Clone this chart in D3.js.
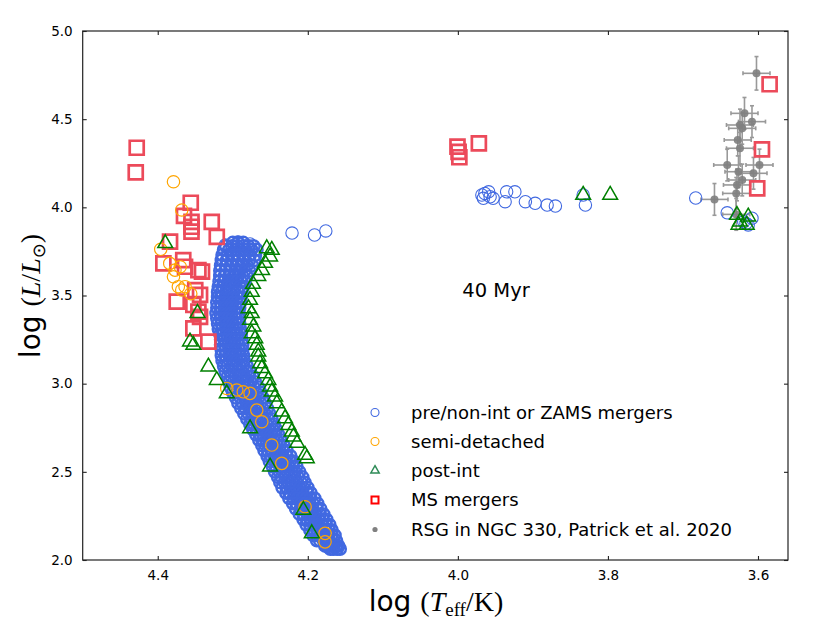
<!DOCTYPE html>
<html><head><meta charset="utf-8">
<script src="https://cdn.jsdelivr.net/npm/d3@7"></script>
<style>body{margin:0;background:#fff}svg{display:block}</style>
</head><body><div id="chart"></div>
<script>
// ---------------- DATA ----------------
const xTicks = [4.4, 4.2, 4.0, 3.8, 3.6];
const yTicks = [2.0, 2.5, 3.0, 3.5, 4.0, 4.5, 5.0];
const legendLabels = ["pre/non-int or ZAMS mergers", "semi-detached", "post-int", "MS mergers", "RSG in NGC 330, Patrick et al. 2020"];
const ageLabel = "40 Myr";

// dense band of pre/non-interacting stars: [logL, logTeff values across the band]
const blueBand = [
 [3.80,[4.300,4.293,4.286]],
 [3.78,[4.309,4.301,4.294,4.286,4.279,4.272]],
 [3.76,[4.312,4.305,4.297,4.290,4.283,4.275,4.268]],
 [3.73,[4.314,4.307,4.299,4.292,4.284,4.277,4.270]],
 [3.70,[4.315,4.308,4.300,4.293,4.286,4.278,4.271]],
 [3.67,[4.316,4.309,4.302,4.295,4.288,4.281,4.274]],
 [3.64,[4.317,4.310,4.304,4.297,4.291,4.284,4.278]],
 [3.61,[4.317,4.311,4.305,4.299,4.293,4.287,4.281]],
 [3.58,[4.318,4.312,4.306,4.301,4.295,4.289,4.284]],
 [3.55,[4.319,4.313,4.308,4.302,4.297,4.291,4.286]],
 [3.52,[4.320,4.315,4.309,4.304,4.299,4.293,4.288]],
 [3.49,[4.320,4.315,4.310,4.305,4.299,4.294,4.289]],
 [3.46,[4.321,4.316,4.311,4.305,4.300,4.295,4.290]],
 [3.43,[4.321,4.316,4.311,4.306,4.301,4.296,4.291]],
 [3.40,[4.322,4.317,4.312,4.307,4.302,4.297,4.292]],
 [3.37,[4.321,4.316,4.311,4.306,4.301,4.296,4.292]],
 [3.34,[4.320,4.315,4.310,4.305,4.300,4.295,4.291]],
 [3.31,[4.319,4.314,4.309,4.304,4.299,4.295,4.290]],
 [3.28,[4.317,4.313,4.308,4.303,4.298,4.294,4.289]],
 [3.25,[4.316,4.311,4.307,4.302,4.297,4.293,4.288]],
 [3.22,[4.316,4.311,4.306,4.301,4.297,4.292,4.287]],
 [3.19,[4.315,4.310,4.305,4.301,4.296,4.291,4.287]],
 [3.16,[4.315,4.310,4.305,4.300,4.295,4.291,4.286]],
 [3.13,[4.314,4.309,4.304,4.299,4.294,4.289,4.285]],
 [3.10,[4.312,4.307,4.301,4.296,4.291,4.286,4.281]],
 [3.07,[4.310,4.304,4.299,4.293,4.288,4.282,4.277]],
 [3.04,[4.307,4.302,4.296,4.290,4.285,4.279,4.273]],
 [3.01,[4.305,4.299,4.293,4.287,4.281,4.276,4.270]],
 [2.98,[4.303,4.297,4.291,4.285,4.278,4.272,4.266]],
 [2.95,[4.300,4.294,4.288,4.281,4.275,4.269,4.263]],
 [2.92,[4.296,4.290,4.284,4.278,4.272,4.266,4.260]],
 [2.89,[4.293,4.287,4.281,4.275,4.269,4.263,4.257]],
 [2.86,[4.289,4.283,4.277,4.271,4.266,4.260,4.254]],
 [2.83,[4.285,4.279,4.274,4.268,4.262,4.257,4.251]],
 [2.80,[4.281,4.275,4.270,4.264,4.259,4.253,4.248]],
 [2.77,[4.277,4.272,4.266,4.261,4.255,4.250,4.245]],
 [2.74,[4.273,4.268,4.263,4.257,4.252,4.247,4.242]],
 [2.71,[4.269,4.264,4.259,4.254,4.249,4.244,4.239]],
 [2.68,[4.265,4.260,4.255,4.251,4.246,4.241,4.236]],
 [2.65,[4.261,4.256,4.251,4.246,4.241,4.237,4.232]],
 [2.62,[4.258,4.253,4.248,4.243,4.238,4.233,4.228]],
 [2.59,[4.254,4.249,4.244,4.239,4.234,4.228,4.223]],
 [2.56,[4.251,4.245,4.240,4.235,4.230,4.224,4.219]],
 [2.53,[4.247,4.242,4.236,4.231,4.226,4.220,4.215]],
 [2.50,[4.244,4.238,4.233,4.227,4.222,4.217,4.211]],
 [2.47,[4.240,4.235,4.229,4.224,4.218,4.213,4.207]],
 [2.44,[4.237,4.231,4.226,4.220,4.215,4.209,4.204]],
 [2.41,[4.234,4.228,4.222,4.217,4.211,4.206,4.200]],
 [2.38,[4.229,4.224,4.218,4.212,4.207,4.201,4.196]],
 [2.35,[4.225,4.219,4.214,4.208,4.202,4.197,4.191]],
 [2.32,[4.220,4.215,4.209,4.204,4.198,4.193,4.187]],
 [2.29,[4.216,4.210,4.205,4.199,4.194,4.188,4.183]],
 [2.26,[4.211,4.206,4.200,4.195,4.190,4.184,4.179]],
 [2.23,[4.206,4.201,4.196,4.191,4.185,4.180,4.175]],
 [2.20,[4.202,4.197,4.192,4.187,4.181,4.176,4.171]],
 [2.17,[4.197,4.192,4.187,4.182,4.177,4.172,4.168]],
 [2.14,[4.193,4.188,4.183,4.178,4.173,4.168,4.164]],
 [2.11,[4.188,4.184,4.179,4.175,4.171,4.166,4.162]],
 [2.08,[4.177,4.174,4.171,4.168,4.165,4.162,4.159]],
 [2.062,[4.170,4.166,4.161,4.157]]
];
// isolated pre/non-interacting stars [logTeff, logL]
const blueOther = [
 [4.310,3.786],[4.293,3.803],[4.277,3.792],[4.314,3.712],[4.317,3.616],[4.3195,3.531],
 [4.221,3.854],[4.191,3.843],[4.176,3.866],
 [3.968,4.070],[3.964,4.079],[3.957,4.060],[3.953,4.051],[3.966,4.051],[3.959,4.088],
 [3.935,4.088],[3.924,4.088],[3.937,4.032],[3.910,4.032],[3.897,4.023],[3.881,4.013],
 [3.870,4.007],[3.833,4.070],[3.830,4.013],[3.683,4.053],
 [3.641,3.969],[3.616,3.909],[3.608,3.938],[3.619,3.918],[3.613,3.900]
];
// semi-detached [logTeff, logL]
const semiDetached = [
 [4.379,4.145],[4.368,3.985],[4.396,3.762],[4.384,3.682],[4.377,3.644],[4.370,3.663],
 [4.379,3.606],[4.3725,3.550],[4.368,3.531],[4.3636,3.550],[4.356,3.510],
 [4.308,2.973],[4.2947,2.964],[4.286,2.954],[4.277,2.945],[4.268,2.850],[4.2613,2.784],
 [4.248,2.652],[4.2347,2.548],[4.2036,2.302],[4.177,2.151],[4.177,2.103]
];
// post-interaction [logTeff, logL]
const postInt = [
 [4.2547,3.767],[4.248,3.758],[4.2503,3.720],[4.257,3.684],[4.261,3.644],[4.266,3.610],
 [4.273,3.565],[4.2747,3.520],[4.277,3.474],[4.279,3.427],[4.2747,3.399],[4.277,3.361],
 [4.2725,3.323],[4.2747,3.285],[4.270,3.257],[4.268,3.219],[4.266,3.181],[4.266,3.153],
 [4.2636,3.115],[4.2613,3.087],[4.257,3.058],[4.2525,3.020],[4.2503,2.982],[4.248,2.954],
 [4.2436,2.926],[4.2413,2.888],[4.2347,2.841],[4.2303,2.803],[4.2259,2.765],[4.2213,2.727],
 [4.2192,2.699],[4.2143,2.663],[4.2036,2.595],[4.2013,2.576],
 [4.390,3.796],[4.357,3.238],[4.3525,3.219],[4.347,3.400],[4.3325,3.096],[4.3213,3.020],
 [4.308,2.945],[4.2769,2.746],[4.2503,2.529],[4.2059,2.283],[4.1947,2.151],
 [3.833,4.070],[3.797,4.070],
 [3.628,3.956],[3.613,3.947],[3.624,3.918],[3.626,3.900],[3.615,3.900]
];
// main-sequence mergers [logTeff, logL]
const msMergers = [
 [4.428,4.338],[4.4293,4.198],[4.356,4.026],[4.365,3.951],[4.355,3.918],[4.355,3.890],
 [4.355,3.862],[4.328,3.918],[4.3213,3.833],[4.3836,3.805],[4.3925,3.682],[4.366,3.701],
 [4.3636,3.663],[4.3458,3.644],[4.341,3.635],[4.350,3.531],[4.3436,3.503],[4.3747,3.465],
 [4.3525,3.446],[4.3458,3.408],[4.3436,3.379],[4.3525,3.314],[4.3325,3.238],
 [4.0005,4.344],[3.999,4.315],[3.998,4.284],[3.972,4.363],
 [3.5845,4.698],[3.5947,4.329],[3.601,4.108]
];
// RSGs in NGC 330 (Patrick et al. 2020): [logTeff, logL, errTeff, errL]
const rsg = [
 [3.602,4.760,0.018,0.095],[3.618,4.533,0.018,0.09],[3.608,4.486,0.018,0.09],
 [3.624,4.467,0.018,0.09],[3.621,4.448,0.018,0.09],[3.627,4.382,0.018,0.09],
 [3.624,4.335,0.018,0.09],[3.641,4.240,0.018,0.09],[3.598,4.240,0.018,0.09],
 [3.606,4.193,0.018,0.09],[3.626,4.202,0.018,0.09],[3.621,4.155,0.018,0.09],
 [3.628,4.127,0.018,0.09],[3.629,4.079,0.018,0.09],[3.658,4.045,0.018,0.09],
 [3.629,3.960,0.018,0.09]
];

// ---------------- CHART ----------------
const W = 830, H = 623;
const x = d3.scaleLinear().domain([4.5, 3.56]).range([82.7, 788]);
const y = d3.scaleLinear().domain([2.0, 5.0]).range([560, 31]);

const svg = d3.select("#chart").append("svg").attr("width", W).attr("height", H)
  .style("font-family", "'DejaVu Sans', sans-serif");

const plot = svg.append("g");
svg.append("clipPath").attr("id", "clip").append("rect")
  .attr("x", x.range()[0]).attr("y", y.range()[1])
  .attr("width", x.range()[1] - x.range()[0]).attr("height", y.range()[0] - y.range()[1]);
plot.attr("clip-path", "url(#clip)");

const circ = d3.symbol().type(d3.symbolCircle).size(Math.PI * 6.2 * 6.2);
const bandCirc = d3.symbol().type(d3.symbolCircle).size(Math.PI * 5.8 * 5.8);
const tri = d3.symbol().type(d3.symbolTriangle).size(95);
const sq = d3.symbol().type(d3.symbolSquare).size(14 * 14);

// RSG error bars + points
const gR = plot.append("g").attr("stroke", "#888").attr("stroke-width", 1.6).attr("opacity", 0.85);
rsg.forEach(([t, l, et, el]) => {
  gR.append("line").attr("x1", x(t - et)).attr("x2", x(t + et)).attr("y1", y(l)).attr("y2", y(l));
  gR.append("line").attr("x1", x(t)).attr("x2", x(t)).attr("y1", y(l - el)).attr("y2", y(l + el));
  [t - et, t + et].forEach(v => gR.append("line").attr("x1", x(v)).attr("x2", x(v)).attr("y1", y(l) - 2).attr("y2", y(l) + 2));
  [l - el, l + el].forEach(v => gR.append("line").attr("x1", x(t) - 2).attr("x2", x(t) + 2).attr("y1", y(v)).attr("y2", y(v)));
});
plot.append("g").selectAll("circle").data(rsg).join("circle")
  .attr("cx", d => x(d[0])).attr("cy", d => y(d[1])).attr("r", 4).attr("fill", "#808080").attr("opacity", 0.9);

// blue band
const bandPts = [];
blueBand.forEach(([l, ts]) => ts.forEach(t => bandPts.push([t, l])));
plot.append("g").selectAll("path").data(bandPts).join("path")
  .attr("d", bandCirc).attr("transform", d => `translate(${x(d[0])},${y(d[1])})`)
  .attr("fill", "none").attr("stroke", "royalblue").attr("stroke-width", 2.4);
plot.append("g").selectAll("path").data(blueOther).join("path")
  .attr("d", circ).attr("transform", d => `translate(${x(d[0])},${y(d[1])})`)
  .attr("fill", "none").attr("stroke", "royalblue").attr("stroke-width", 1.1);

// red squares
plot.append("g").selectAll("path").data(msMergers).join("path")
  .attr("d", sq).attr("transform", d => `translate(${x(d[0])},${y(d[1])})`)
  .attr("fill", "none").attr("stroke", "#ec4a5a").attr("stroke-width", 2.7);

// orange
plot.append("g").selectAll("path").data(semiDetached).join("path")
  .attr("d", circ).attr("transform", d => `translate(${x(d[0])},${y(d[1])})`)
  .attr("fill", "none").attr("stroke", "orange").attr("stroke-width", 1.2);

// green triangles
plot.append("g").selectAll("path").data(postInt).join("path")
  .attr("d", tri).attr("transform", d => `translate(${x(d[0])},${y(d[1])})`)
  .attr("fill", "none").attr("stroke", "green").attr("stroke-width", 1.5);

// axes frame
svg.append("rect").attr("x", x.range()[0]).attr("y", y.range()[1])
  .attr("width", x.range()[1] - x.range()[0]).attr("height", y.range()[0] - y.range()[1])
  .attr("fill", "none").attr("stroke", "#222").attr("stroke-width", 1.2);

const xb = svg.append("g").attr("transform", `translate(0,${y.range()[0]})`)
  .call(d3.axisBottom(x).tickValues(xTicks).tickSizeInner(-4).tickSizeOuter(0).tickPadding(10).tickFormat(d3.format(".1f")));
const xt = svg.append("g").attr("transform", `translate(0,${y.range()[1]})`)
  .call(d3.axisTop(x).tickValues(xTicks).tickSizeInner(-4).tickSizeOuter(0).tickFormat(""));
const yl = svg.append("g").attr("transform", `translate(${x.range()[0]},0)`)
  .call(d3.axisLeft(y).tickValues(yTicks).tickSizeInner(-4).tickSizeOuter(0).tickPadding(10).tickFormat(d3.format(".1f")));
const yr = svg.append("g").attr("transform", `translate(${x.range()[1]},0)`)
  .call(d3.axisRight(y).tickValues(yTicks).tickSizeInner(-4).tickSizeOuter(0).tickFormat(""));
[xb, xt, yl, yr].forEach(g => {
  g.select(".domain").remove();
  g.selectAll(".tick line").attr("stroke", "#222").attr("stroke-width", 1.1);
  g.selectAll(".tick text").attr("font-family", "'DejaVu Sans', sans-serif").attr("font-size", 13.5).attr("fill", "#000");
});

// axis labels
const xl = svg.append("text").attr("x", 436).attr("y", 611).attr("text-anchor", "middle")
  .attr("font-size", 28).attr("fill", "#000");
xl.append("tspan").attr("font-family", "'DejaVu Sans', sans-serif").text("log ");
xl.append("tspan").attr("font-family", "'Liberation Serif', serif").text("(");
xl.append("tspan").attr("font-family", "'Liberation Serif', serif").attr("font-style", "italic").text("T");
xl.append("tspan").attr("font-family", "'Liberation Serif', serif").attr("font-size", 19).attr("dy", 5).text("eff");
xl.append("tspan").attr("font-family", "'Liberation Serif', serif").attr("dy", -5).text("/K)");

const ylab = svg.append("text").attr("transform", "translate(40,296) rotate(-90)").attr("text-anchor", "middle")
  .attr("font-size", 28).attr("fill", "#000");
ylab.append("tspan").attr("font-family", "'DejaVu Sans', sans-serif").text("log ");
ylab.append("tspan").attr("font-family", "'Liberation Serif', serif").text("(");
ylab.append("tspan").attr("font-family", "'Liberation Serif', serif").attr("font-style", "italic").text("L");
ylab.append("tspan").attr("font-family", "'Liberation Serif', serif").text("/");
ylab.append("tspan").attr("font-family", "'Liberation Serif', serif").attr("font-style", "italic").text("L");
ylab.append("tspan").attr("font-family", "'DejaVu Sans', sans-serif").attr("font-size", 18).attr("dy", 5).text("⊙");
ylab.append("tspan").attr("font-family", "'Liberation Serif', serif").attr("dy", -5).text(")");

// annotation
svg.append("text").attr("x", 496).attr("y", 297).attr("text-anchor", "middle")
  .attr("font-size", 19.5).attr("fill", "#000").text(ageLabel);

// legend
const lg = svg.append("g");
const rowsY = [412.5, 441.5, 470.5, 500, 529.5];
const lx = 375, tx = 411;
const lgSym = [
  g => g.append("path").attr("d", d3.symbol().type(d3.symbolCircle).size(Math.PI * 16)).attr("fill", "none").attr("stroke", "royalblue").attr("stroke-width", 1.1),
  g => g.append("path").attr("d", d3.symbol().type(d3.symbolCircle).size(Math.PI * 16)).attr("fill", "none").attr("stroke", "orange").attr("stroke-width", 1.1),
  g => g.append("path").attr("d", d3.symbol().type(d3.symbolTriangle).size(30)).attr("fill", "none").attr("stroke", "seagreen").attr("stroke-width", 1.5),
  g => g.append("path").attr("d", d3.symbol().type(d3.symbolSquare).size(49)).attr("fill", "none").attr("stroke", "red").attr("stroke-width", 2),
  g => g.append("circle").attr("r", 2.6).attr("fill", "#808080")
];
legendLabels.forEach((lab, i) => {
  const g = lg.append("g").attr("transform", `translate(${lx},${rowsY[i]})`);
  lgSym[i](g);
  lg.append("text").attr("x", tx).attr("y", rowsY[i]).attr("dy", "0.36em")
    .attr("font-size", 18).attr("fill", "#000").text(lab);
});
</script>
</body></html>
